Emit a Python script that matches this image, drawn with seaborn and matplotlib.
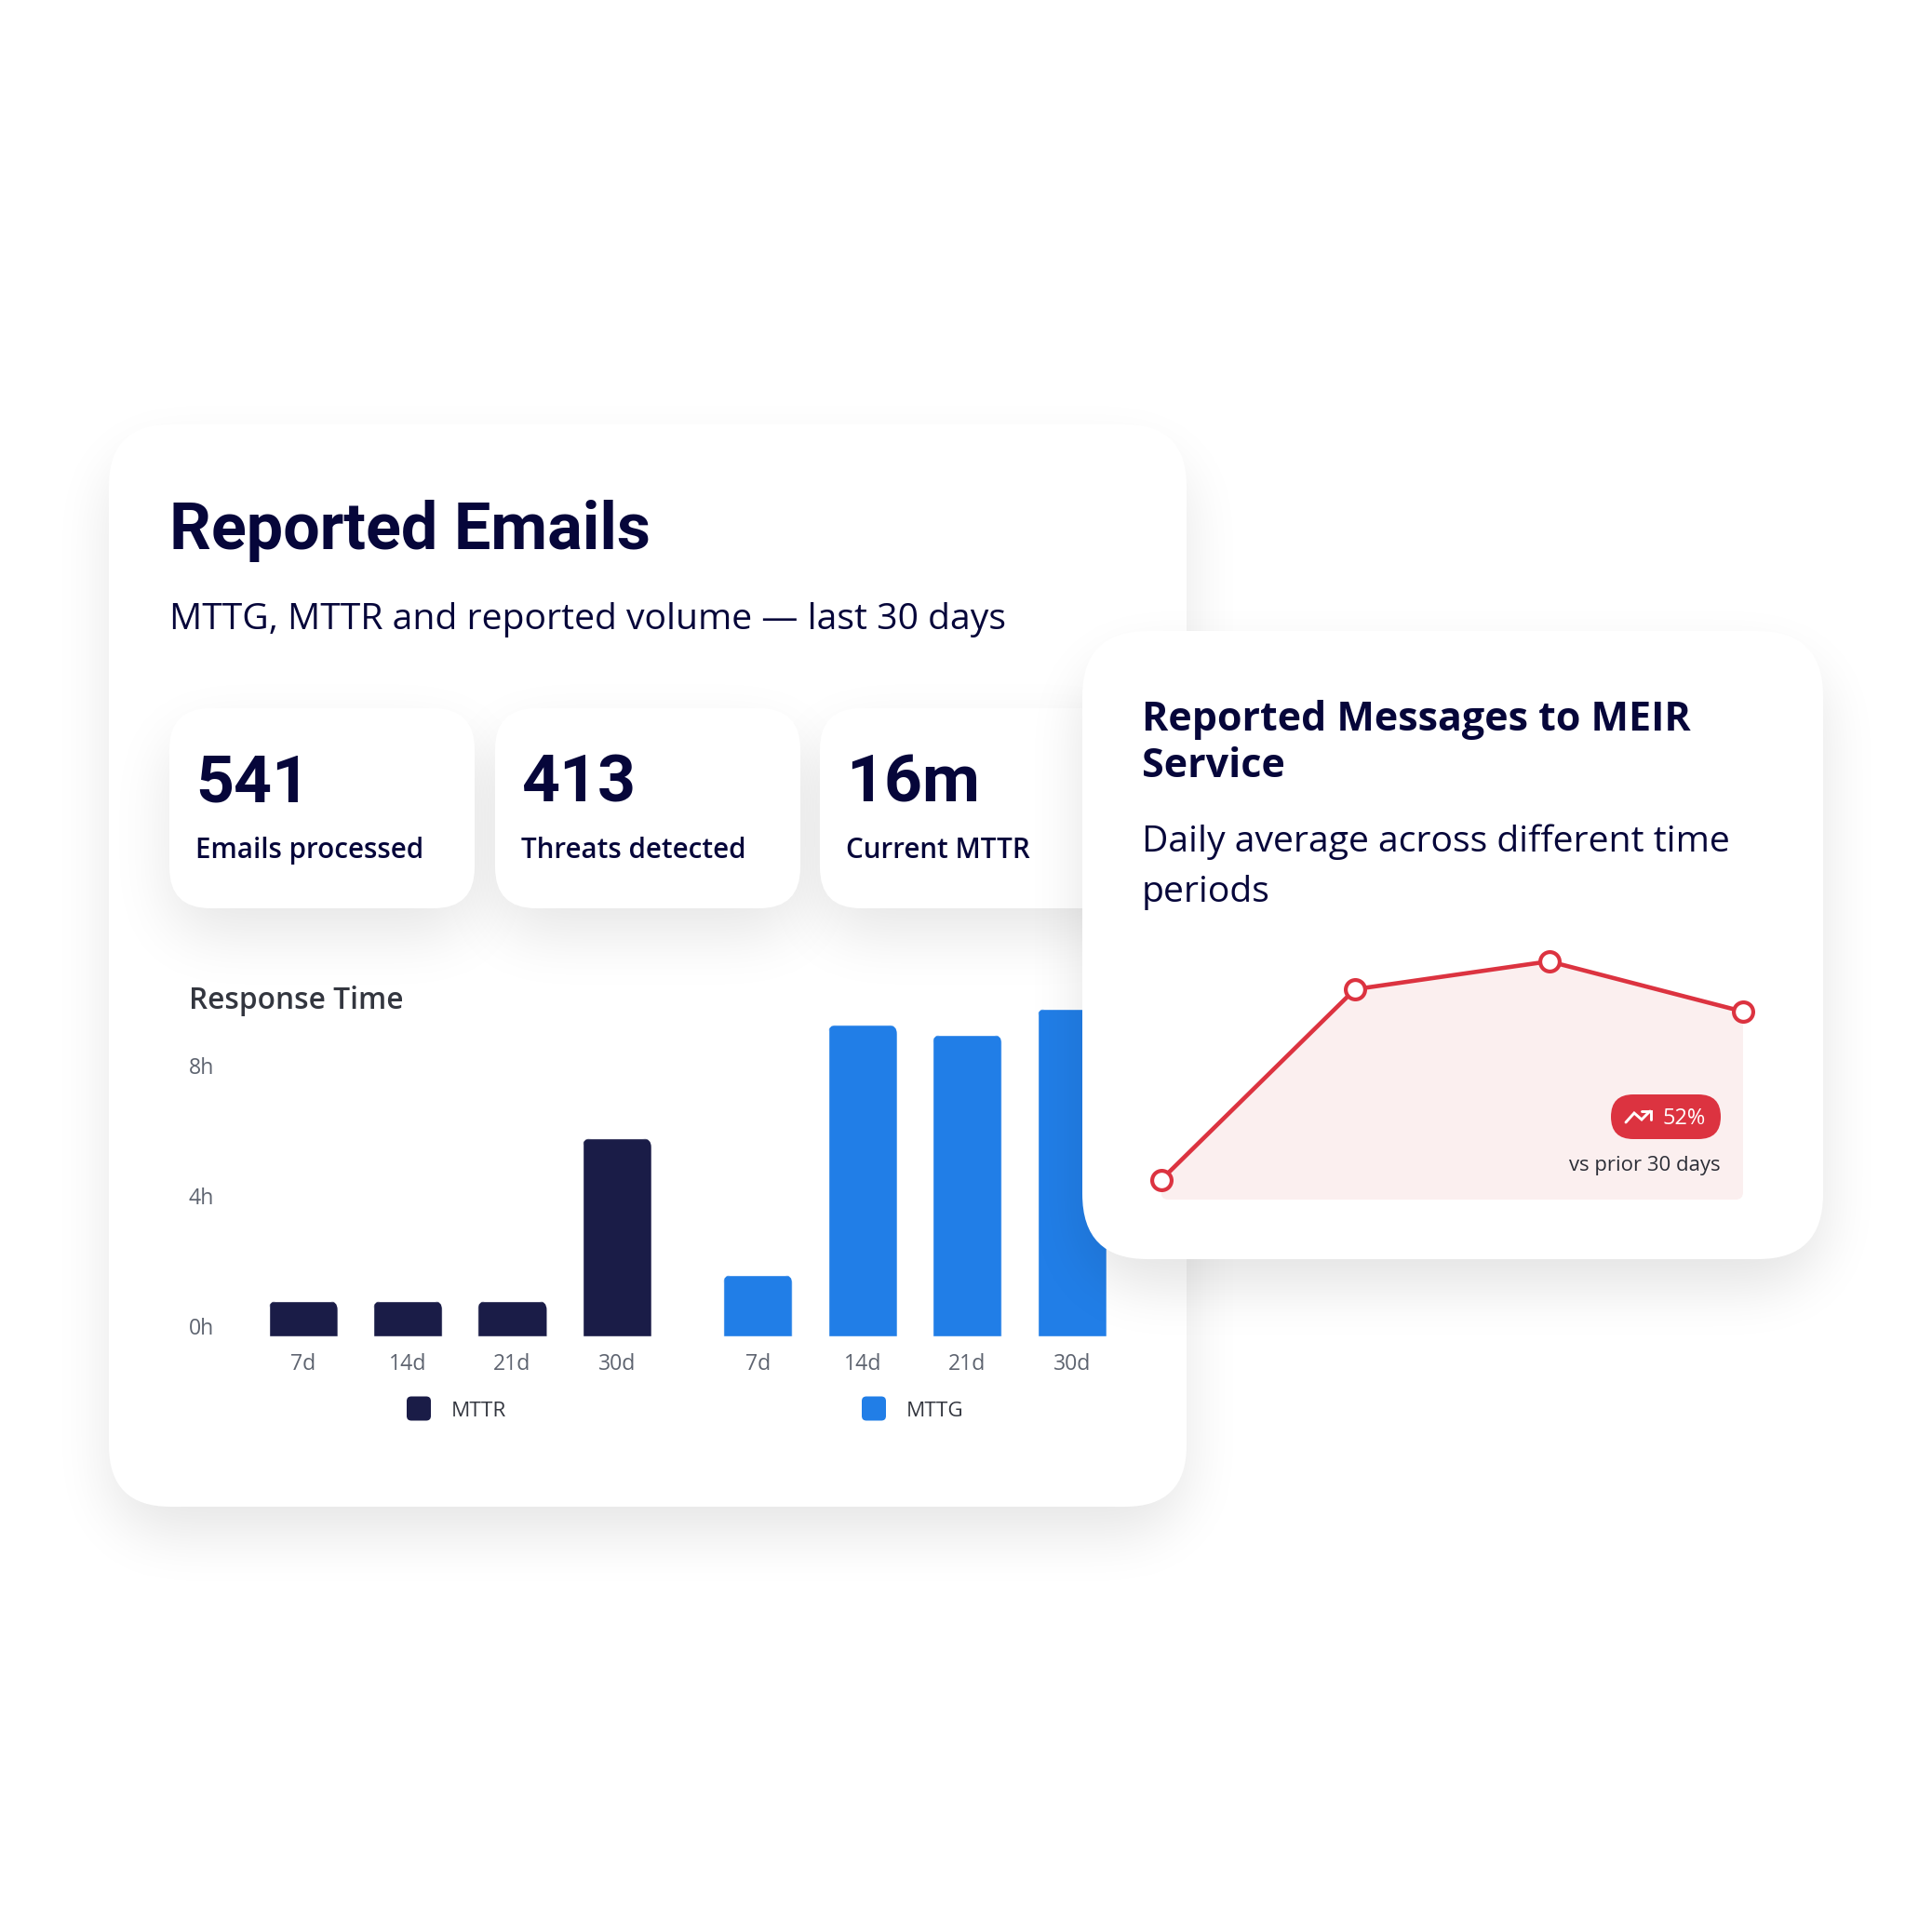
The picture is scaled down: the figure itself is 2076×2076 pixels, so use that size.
import numpy as np
import pandas as pd
import matplotlib
matplotlib.use("Agg")
import matplotlib.pyplot as plt
import seaborn as sns
from matplotlib.patches import FancyBboxPatch
from matplotlib.transforms import ScaledTranslation

# Response time, in hours
periods = ["7d", "14d", "21d", "30d"]
mttr_hours = [1.08, 1.08, 1.08, 6.07]
mttg_hours = [1.88, 9.55, 9.25, 10.05]
hour_ticks = [0, 4, 8]
hour_tick_labels = ["0h", "4h", "8h"]

# Reported messages to the MEIR service, daily average per period
daily_average = [21, 226, 256, 202]

# Headline figures
stat_values = ["541", "413", "16m"]
stat_labels = ["Emails processed", "Threats detected", "Current MTTR"]

NAVY = "#1A1C47"
BLUE = "#217EE7"
RED = "#DC3340"
INK = "#06063A"
PINK = "#FBEFEF"
GREY = "#5E6470"

SIZE = 2076
PT = 0.72  # points per pixel at dpi 100
DISPLAY_FONT = ["Roboto", "Open Sans", "DejaVu Sans"]

sns.set_theme(style="white")
plt.rcParams["font.family"] = ["Open Sans", "Noto Sans", "DejaVu Sans"]

fig = plt.figure(figsize=(SIZE / 100, SIZE / 100), dpi=100, facecolor="white")


def px_axes(left, top, right, bottom, zorder):
    return fig.add_axes(
        [left / SIZE, 1 - bottom / SIZE, (right - left) / SIZE, (bottom - top) / SIZE],
        zorder=zorder,
    )


def layer(zorder):
    ax = px_axes(0, 0, SIZE, SIZE, zorder)
    ax.set_xlim(0, SIZE)
    ax.set_ylim(SIZE, 0)
    ax.axis("off")
    return ax


def rounded_mask(left, top, right, bottom, radius):
    yy, xx = np.mgrid[0:SIZE, 0:SIZE] + 0.5
    cx, cy = (left + right) / 2, (top + bottom) / 2
    dx = np.abs(xx - cx) - ((right - left) / 2 - radius)
    dy = np.abs(yy - cy) - ((bottom - top) / 2 - radius)
    dist = np.hypot(np.maximum(dx, 0), np.maximum(dy, 0)) + np.minimum(np.maximum(dx, dy), 0)
    return (dist < radius).astype(float)


def box_blur(arr, radius, axis):
    cum = np.cumsum(arr, axis=axis)
    pad_shape = list(arr.shape)
    pad_shape[axis] = 1
    cum = np.concatenate([np.zeros(pad_shape), cum], axis=axis)
    n = arr.shape[axis]
    hi = np.clip(np.arange(n) + radius + 1, 0, n)
    lo = np.clip(np.arange(n) - radius, 0, n)
    return (np.take(cum, hi, axis=axis) - np.take(cum, lo, axis=axis)) / (2 * radius + 1)


def soft_shadow(ax, box, radius, offset, blur, alpha, zorder=1):
    left, top, right, bottom = box
    mask = rounded_mask(left, top + offset, right, bottom + offset, radius)
    for _ in range(3):
        mask = box_blur(box_blur(mask, blur, 0), blur, 1)
    rgba = np.zeros((SIZE, SIZE, 4))
    rgba[..., 3] = mask * alpha
    ax.imshow(rgba, extent=(0, SIZE, SIZE, 0), interpolation="bilinear", aspect="auto", zorder=zorder)
    ax.set_xlim(0, SIZE)
    ax.set_ylim(SIZE, 0)


def card(ax, box, radius, color="white", zorder=2):
    left, top, right, bottom = box
    patch = FancyBboxPatch(
        (left, top), right - left, bottom - top,
        boxstyle=f"round,pad=0,rounding_size={radius}",
        facecolor=color, edgecolor="none", zorder=zorder,
    )
    ax.add_patch(patch)
    return patch


def label(ax, x, y, text, px, color=INK, weight="normal", ha="left", family=None):
    text_obj = ax.text(x, y, text, fontsize=px * PT, color=color, fontweight=weight,
                       ha=ha, va="baseline", zorder=6)
    if family:
        text_obj.set_fontfamily(family)
    return text_obj


back = layer(0)
over = layer(2)
front = layer(5)

# Main card with its headline figures
main_box = (117, 456, 1275, 1619)
soft_shadow(back, main_box, 66, 30, 28, 0.10)
card(back, main_box, 66)

label(back, 182, 590, "Reported Emails", 70.2, weight="bold", family=DISPLAY_FONT)
label(back, 182, 676, "MTTG, MTTR and reported volume — last 30 days", 39.1)

stat_boxes = [(182, 761, 510, 976), (532, 761, 860, 976), (881, 761, 1209, 976)]
for box in stat_boxes:
    soft_shadow(back, box, 44, 28, 30, 0.10, zorder=3)
for box, value, caption in zip(stat_boxes, stat_values, stat_labels):
    card(back, box, 44, zorder=4)
    label(back, box[0] + 28, 861, value, 71.5, weight="bold", family=DISPLAY_FONT)
    label(back, box[0] + 28, 922, caption, 29.6, weight="semibold")

label(back, 203, 1084.5, "Response Time", 31.7, color="#33363F", weight="semibold")

# Paired bar charts on a common hour scale
BASE = 1435.5
HOUR_PX = 35.0
TOP_HOUR = 10.5
chart_top = BASE - TOP_HOUR * HOUR_PX
ax_mttr = px_axes(269.5, chart_top, 719, BASE, 1)
ax_mttg = px_axes(758, chart_top, 1208, BASE, 1)

panels = [(ax_mttr, mttr_hours, NAVY), (ax_mttg, mttg_hours, BLUE)]
for ax, hours, color in panels:
    frame = pd.DataFrame({"period": periods, "hours": hours})
    sns.barplot(data=frame, x="period", y="hours", color=color, width=0.66, saturation=1, ax=ax)
    ax.set_xlim(-0.5, 3.5)
    ax.set_ylim(0, TOP_HOUR)
    ax.set_xlabel("")
    ax.set_ylabel("")
    ax.patch.set_alpha(0)
    sns.despine(ax=ax, left=True, bottom=True)
    ax.tick_params(axis="x", length=0, pad=13, labelsize=23 * PT, labelcolor=GREY)
    ax.set_yticks(hour_ticks)
    ax.grid(False)
    # Round the top corners of each bar, leaving the base square
    to_px = ax.transData + back.transData.inverted()
    for bar in ax.patches:
        (x0, y0), (x1, y1) = to_px.transform(
            [(bar.get_x(), bar.get_y()), (bar.get_x() + bar.get_width(), bar.get_height())]
        )
        clip = FancyBboxPatch(
            (x0, y1), x1 - x0, (y0 - y1) + 30,
            boxstyle="round,pad=0,rounding_size=10",
            transform=back.transData, facecolor="none", edgecolor="none",
        )
        bar.set_clip_path(clip)

ax_mttr.set_yticklabels(hour_tick_labels, ha="left", va="center", color=GREY, fontsize=23 * PT)
ax_mttr.tick_params(axis="y", length=0, pad=67 * PT)
ax_mttg.tick_params(axis="y", length=0, left=False, labelleft=False)
# Hour labels sit a little above their gridline positions
lift = ScaledTranslation(0, 7.5 / 100, fig.dpi_scale_trans)
for tick_label in ax_mttr.get_yticklabels():
    tick_label.set_transform(tick_label.get_transform() + lift)

# Series keys
for left, name, color in [(437, "MTTR", NAVY), (926, "MTTG", BLUE)]:
    card(back, (left, 1500.5, left + 26, 1526.5), 5, color=color, zorder=5)
    label(back, left + 48, 1522, name, 22.5, color="#33363F")

# Inset card
inset_box = (1163, 678, 1959, 1353)
soft_shadow(over, inset_box, 70, 30, 28, 0.11)
card(over, inset_box, 70)
label(over, 1227, 785, "Reported Messages to MEIR", 43, weight="bold")
label(over, 1227, 835, "Service", 43, weight="bold")
label(over, 1227, 915, "Daily average across different time", 39.1)
label(over, 1227, 969, "periods", 39.1)

# Daily average line and its shaded area
AREA_BASE = 1289
ax_line = px_axes(1247.5, AREA_BASE - 300, 1873, AREA_BASE, 3)
positions = np.arange(len(daily_average))
ax_line.fill_between(positions, daily_average, 0, color=PINK, linewidth=0, zorder=1)
area_clip = FancyBboxPatch(
    (1247.5, 900), 625.5, AREA_BASE - 900,
    boxstyle="round,pad=0,rounding_size=8",
    transform=over.transData, facecolor="none", edgecolor="none",
)
ax_line.collections[-1].set_clip_path(area_clip)
sns.lineplot(
    x=positions, y=daily_average, color=RED, linewidth=3.3, marker="o",
    markersize=15, markerfacecolor="white", markeredgecolor=RED,
    markeredgewidth=3, clip_on=False, zorder=3, ax=ax_line,
)
ax_line.set_xlim(0, len(daily_average) - 1)
ax_line.set_ylim(0, 300)
ax_line.axis("off")

# Trend badge
card(front, (1731, 1176, 1849, 1224), 24, color=RED)
front.plot(
    [1747, 1756, 1764, 1773], [1206, 1196, 1203, 1194],
    color="white", linewidth=2.1, solid_joinstyle="miter", zorder=6,
)
front.plot(
    [1763.5, 1773.5, 1773.5], [1194, 1194, 1203],
    color="white", linewidth=2.1, solid_joinstyle="miter", zorder=6,
)
label(front, 1787, 1208, "52%", 23.5, color="white")
label(front, 1849, 1258, "vs prior 30 days", 22.2, color="#2B2D36", ha="right")

fig.savefig("out.png", dpi=100, facecolor="white")
